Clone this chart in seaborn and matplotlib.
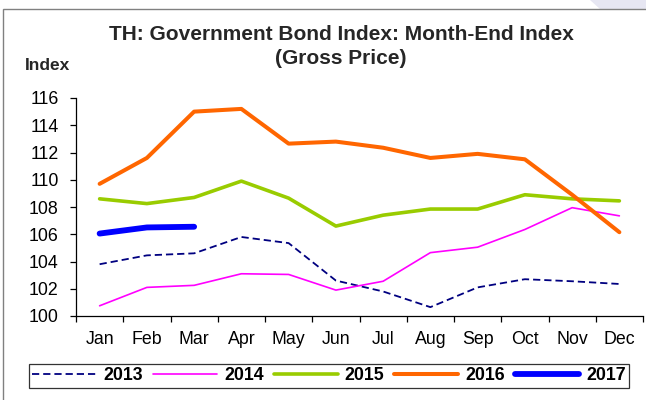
import matplotlib
matplotlib.use("Agg")
import matplotlib.pyplot as plt
from matplotlib.patches import Rectangle, Polygon
import seaborn as sns
import pandas as pd

months = ["Jan", "Feb", "Mar", "Apr", "May", "Jun",
          "Jul", "Aug", "Sep", "Oct", "Nov", "Dec"]
y2013 = [103.8, 104.45, 104.6, 105.8, 105.35, 102.6,
         101.8, 100.65, 102.1, 102.7, 102.55, 102.35]
y2014 = [100.75, 102.1, 102.25, 103.1, 103.05, 101.9,
         102.55, 104.65, 105.05, 106.35, 107.95, 107.35]
y2015 = [108.6, 108.25, 108.7, 109.9, 108.65, 106.6,
         107.4, 107.85, 107.85, 108.9, 108.6, 108.45]
y2016 = [109.7, 111.6, 115.0, 115.2, 112.65, 112.8,
         112.35, 111.6, 111.9, 111.5, 108.9, 106.15]
y2017 = [106.05, 106.5, 106.55]
yticks = list(range(100, 117, 2))

series = {"2013": y2013, "2014": y2014, "2015": y2015,
          "2016": y2016, "2017": y2017}
rows = []
for year, vals in series.items():
    for i, v in enumerate(vals):
        rows.append({"year": year, "pos": i, "month": months[i], "value": v})
df = pd.DataFrame(rows)

styles = {
    "2013": dict(color="#000080", lw=1.3, ls=(0, (4, 2.2))),
    "2014": dict(color="#FF00FF", lw=1.2, ls="-"),
    "2015": dict(color="#99CC00", lw=2.6, ls="-"),
    "2016": dict(color="#FF6600", lw=2.9, ls="-"),
    "2017": dict(color="#0000FF", lw=4.2, ls="-"),
}

sns.set_theme(style="white")
plt.rcParams["font.family"] = ["Liberation Sans", "DejaVu Sans"]

fig = plt.figure(figsize=(6.46, 4.0), dpi=100)
ax = fig.add_axes([76 / 646, 1 - 316 / 400, (643 - 76) / 646, (316 - 98) / 400])

for year in series:
    st = styles[year]
    sub = df[df["year"] == year]
    sns.lineplot(data=sub, x="pos", y="value", ax=ax, color=st["color"],
                 linewidth=st["lw"], linestyle=st["ls"], label=year,
                 solid_capstyle="round", legend=False)

ax.set_xlim(-0.5, 11.5)
ax.set_ylim(100, 116)
ax.set_yticks(yticks)
ax.set_yticklabels([str(t) for t in yticks])
ax.set_xticks(range(12))
ax.set_xticklabels(months)
ax.set_xticks([i - 0.5 for i in range(13)], minor=True)
ax.tick_params(axis="x", which="major", length=0, pad=11, labelsize=12.8,
               colors="black")
ax.tick_params(axis="x", which="minor", length=4.5, width=0.9,
               direction="out", color="black", bottom=True)
ax.tick_params(axis="y", which="major", length=4.5, width=0.9,
               direction="out", pad=8, labelsize=12.8, colors="black", left=True)
ax.set_xlabel("")
ax.set_ylabel("")
for side in ["top", "right"]:
    ax.spines[side].set_visible(False)
for side in ["left", "bottom"]:
    ax.spines[side].set_color("black")
    ax.spines[side].set_linewidth(0.9)
ax.grid(False)

fig.text(0.528, 1 - 35 / 400, "TH: Government Bond Index: Month-End Index",
         ha="center", va="center", fontsize=15, fontweight="bold")
fig.text(0.528, 1 - 58 / 400, "(Gross Price)",
         ha="center", va="center", fontsize=15, fontweight="bold")
fig.text(25 / 646, 1 - 65 / 400, "Index", ha="left", va="center",
         fontsize=12.5, fontweight="bold")

handles, labels = ax.get_legend_handles_labels()
leg = fig.legend(handles, labels, ncol=5, mode="expand",
                 loc="center", bbox_to_anchor=(20 / 646, 11 / 400, 618 / 646, 26 / 400),
                 frameon=True, fancybox=False, shadow=False, borderpad=0.2,
                 handlelength=3.6, handletextpad=0.4, columnspacing=1.0,
                 prop={"weight": "bold", "size": 12.8})
leg.get_frame().set_edgecolor("black")
leg.get_frame().set_linewidth(0.9)
for t in leg.get_texts():
    t.set_color("black")

# outer chart border and corner accent
fig.patches.append(Rectangle((3 / 646, -0.05), 1.1, 1 - 9 / 400 + 0.05,
                             transform=fig.transFigure, fill=False,
                             edgecolor="#808080", linewidth=1.0, zorder=0))
fig.patches.append(Polygon([(590 / 646, 1.0), (1.0, 1.0), (1.0, 1 - 9 / 400),
                            (600 / 646, 1 - 9 / 400)],
                           closed=True, transform=fig.transFigure,
                           facecolor="#e6e6f2", edgecolor="none", zorder=-1))

fig.savefig("out.png", dpi=100)
